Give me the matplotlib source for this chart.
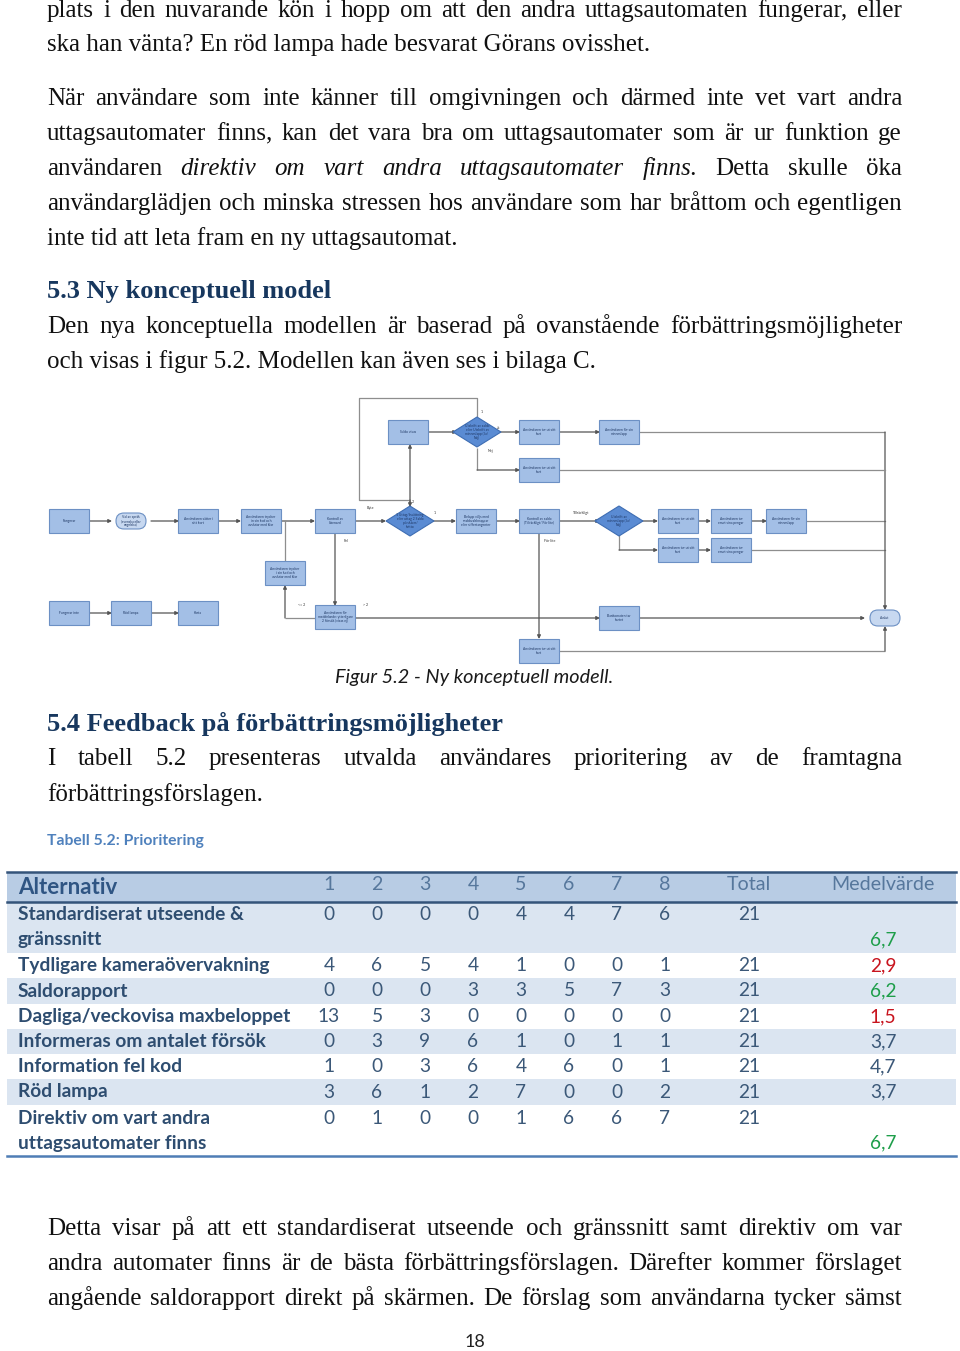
import matplotlib
matplotlib.use("Agg")
import matplotlib.pyplot as plt
from matplotlib.patches import Rectangle, FancyBboxPatch, Polygon

# ---- data ----
alternativ = [
    ["Standardiserat utseende &", "gränssnitt"],
    ["Tydligare kameraövervakning"],
    ["Saldorapport"],
    ["Dagliga/veckovisa maxbeloppet"],
    ["Informeras om antalet försök"],
    ["Information fel kod"],
    ["Röd lampa"],
    ["Direktiv om vart andra", "uttagsautomater finns"],
]
svar_1 = [0, 4, 0, 13, 0, 1, 3, 0]
svar_2 = [0, 6, 0, 5, 3, 0, 6, 1]
svar_3 = [0, 5, 0, 3, 9, 3, 1, 0]
svar_4 = [0, 4, 3, 0, 6, 6, 2, 0]
svar_5 = [4, 1, 3, 0, 1, 4, 7, 1]
svar_6 = [4, 0, 5, 0, 0, 6, 0, 6]
svar_7 = [7, 0, 7, 0, 1, 0, 0, 6]
svar_8 = [6, 1, 3, 0, 1, 1, 2, 7]
total = [21, 21, 21, 21, 21, 21, 21, 21]
medelvarde = [6.7, 2.9, 6.2, 1.5, 3.7, 4.7, 3.7, 6.7]
medel_farg = ["#1E9E4A", "#C8141E", "#1E9E4A", "#C8141E", None, None, None, "#1E9E4A"]
kolumner = ["1", "2", "3", "4", "5", "6", "7", "8", "Total", "Medelvärde"]

# body text: (y, line, justified)  '*' before a word = italic
stycken = [
    (10, "plats i den nuvarande kön i hopp om att den andra uttagsautomaten fungerar, eller", True),
    (44, "ska han vänta? En röd lampa hade besvarat Görans ovisshet.", False),
    (98, "När användare som inte känner till omgivningen och därmed inte vet vart andra", True),
    (133, "uttagsautomater finns, kan det vara bra om uttagsautomater som är ur funktion ge", True),
    (168, "användaren *direktiv *om *vart *andra *uttagsautomater *finns. Detta skulle öka", True),
    (203, "användarglädjen och minska stressen hos användare som har bråttom och egentligen", True),
    (238, "inte tid att leta fram en ny uttagsautomat.", False),
    (326, "Den nya konceptuella modellen är baserad på ovanstående förbättringsmöjligheter", True),
    (361, "och visas i figur 5.2. Modellen kan även ses i bilaga C.", False),
    (758, "I tabell 5.2 presenteras utvalda användares prioritering av de framtagna", True),
    (794, "förbättringsförslagen.", False),
    (1228, "Detta visar på att ett standardiserat utseende och gränssnitt samt direktiv om var", True),
    (1263, "andra automater finns är de bästa förbättringsförslagen. Därefter kommer förslaget", True),
    (1298, "angående saldorapport direkt på skärmen. De förslag som användarna tycker sämst", True),
]

# flowchart nodes: label, center x, center y, kind
noder = [
    ("Fungerar", 69, 521, "box"),
    ("Val av språk\n(svenska eller\nengelska)", 131, 521, "term"),
    ("Användaren sätter i\nsitt kort", 198, 521, "box"),
    ("Användaren trycker\nin sin kod och\navslutar med klar", 261, 521, "box"),
    ("Kontroll av\nlösenord", 335, 521, "box"),
    ("1 Uttag/Insättning\neller uttag 2 Saldo\npå skärm/\nkvitto", 410, 521, "dia"),
    ("Belopp väljs med\nsnabbvalsknappar\neller siffertangenter", 476, 521, "box"),
    ("Kontroll av saldo\n(Tillräckligt/ För lite)", 539, 521, "box"),
    ("Utskrift av\nminneslapp (Ja/\nNej)", 619, 521, "dia"),
    ("Användaren tar ut sitt\nkort", 678, 521, "box"),
    ("Användaren tar\nemot sina pengar", 731, 521, "box"),
    ("Användaren får sin\nminneslapp", 786, 521, "box"),
    ("Användaren tar ut sitt\nkort", 678, 550, "box"),
    ("Användaren tar\nemot sina pengar", 731, 550, "box"),
    ("Saldo visas", 408, 432, "box"),
    ("Utskrift av saldo\neller Utskrift av\nminneslapp (Ja/\nNej)", 477, 432, "dia"),
    ("Användaren tar ut sitt\nkort", 539, 432, "box"),
    ("Användaren får sin\nminneslapp", 619, 432, "box"),
    ("Användaren tar ut sitt\nkort", 539, 470, "box"),
    ("Användaren trycker\ni sin kod och\navslutar med klar", 285, 573, "box"),
    ("Användaren får\nmeddelande: ytterligare\n2 försök (visas ej)", 335, 617, "box"),
    ("Bankomaten tar\nkortet", 619, 618, "box"),
    ("Användaren tar ut sitt\nkort", 539, 651, "box"),
    ("Avslut", 885, 618, "term"),
    ("Fungerar inte", 69, 613, "box"),
    ("Röd lampa", 131, 613, "box"),
    ("Karta", 198, 613, "box"),
]
# flowchart connectors: points, arrow at end
kanter = [
    ([(89, 521), (112, 521)], True), ([(151, 521), (179, 521)], True),
    ([(218, 521), (241, 521)], True), ([(281, 521), (315, 521)], True),
    ([(355, 521), (386, 521)], True), ([(433, 521), (456, 521)], True),
    ([(496, 521), (520, 521)], True), ([(559, 521), (600, 521)], True),
    ([(638, 521), (658, 521)], True), ([(698, 521), (711, 521)], True),
    ([(751, 521), (767, 521)], True), ([(619, 534), (619, 550), (658, 550)], True),
    ([(698, 550), (711, 550)], True), ([(806, 521), (885, 521)], False),
    ([(751, 550), (885, 550)], False), ([(410, 507), (410, 444)], True),
    ([(477, 417), (477, 398), (359, 398), (359, 500), (410, 500), (410, 507)], True),
    ([(428, 432), (457, 432)], True), ([(497, 432), (520, 432)], True),
    ([(477, 448), (477, 470), (520, 470)], True), ([(559, 432), (600, 432)], True),
    ([(639, 432), (885, 432), (885, 610)], True), ([(559, 470), (885, 470)], False),
    ([(335, 533), (335, 606)], True), ([(315, 618), (285, 618), (285, 585)], True),
    ([(354, 618), (600, 618)], True), ([(539, 533), (539, 639)], True),
    ([(639, 618), (865, 618)], True), ([(559, 651), (885, 651), (885, 626)], True),
    ([(285, 562), (285, 521)], False),
    ([(89, 613), (112, 613)], True), ([(151, 613), (179, 613)], True),
]
etiketter = [
    ("Byte", 370, 508), ("2", 413, 502), ("1", 435, 513), ("1", 482, 412),
    ("Ja", 499, 428), ("Nej", 490, 451), ("Fel", 346, 541), ("<= 2", 302, 605),
    ("> 2", 366, 605), ("Tillräckligt", 581, 513), ("För lite", 550, 541),
]

fig = plt.figure(figsize=(9.6, 13.51), dpi=100)
ax = fig.add_axes([0, 0, 1, 1])
ax.set_xlim(0, 960)
ax.set_ylim(1351, 0)
ax.axis("off")
renderer = fig.canvas.get_renderer()

SERIF = "Liberation Serif"
SANS = "Lato"
BODY = 18
X0, X1 = 47, 902


def bredd(t):
    return t.get_window_extent(renderer).width


# ---- body text ----
for y, rad, just in stycken:
    yb = y + 7
    if not just:
        ax.text(X0, yb, rad, family=SERIF, fontsize=BODY, va="baseline", color="#111111")
        continue
    ord_ = rad.split()
    texter = []
    for w in ord_:
        st = "normal"
        if w.startswith("*"):
            w, st = w[1:], "italic"
        texter.append(ax.text(0, yb, w, family=SERIF, fontsize=BODY, style=st,
                              va="baseline", color="#111111"))
    bredder = [bredd(t) for t in texter]
    gap = (X1 - X0 - sum(bredder)) / (len(texter) - 1)
    x = X0
    for t, b in zip(texter, bredder):
        t.set_x(x)
        x += b + gap

# headings
ax.text(X0, 291 + 7, "5.3 Ny konceptuell model", family=SERIF, fontsize=19,
        weight="bold", color="#17375E", va="baseline")
ax.text(X0, 724 + 7, "5.4 Feedback på förbättringsmöjligheter", family=SERIF, fontsize=19,
        weight="bold", color="#17375E", va="baseline")

# ---- flowchart ----
LINJE = "#8E8E8E"
for pts, pil in kanter:
    xs = [p[0] for p in pts]
    ys = [p[1] for p in pts]
    if pil:
        ax.plot(xs[:-1], ys[:-1], color=LINJE, lw=0.9, solid_capstyle="butt", zorder=2)
        ax.annotate("", xy=pts[-1], xytext=pts[-2],
                    arrowprops=dict(arrowstyle="-|>", color="#555555", lw=0.9,
                                    mutation_scale=5, shrinkA=0, shrinkB=0), zorder=2)
    else:
        ax.plot(xs, ys, color=LINJE, lw=0.9, zorder=2)

for namn, cx, cy, typ in noder:
    if typ == "box":
        ax.add_patch(Rectangle((cx - 20, cy - 12), 40, 24, facecolor="#A3BFE6",
                               edgecolor="#6C90C4", lw=0.8, zorder=3))
    elif typ == "term":
        ax.add_patch(FancyBboxPatch((cx - 15, cy - 8), 30, 16,
                                    boxstyle="round,pad=0,rounding_size=8",
                                    facecolor="#C7D8F0", edgecolor="#6C90C4", lw=0.8, zorder=3))
    else:
        ax.add_patch(Polygon([(cx - 24, cy), (cx, cy - 15), (cx + 24, cy), (cx, cy + 15)],
                             closed=True, facecolor="#5A8BD3", edgecolor="#3E6DB3",
                             lw=0.8, zorder=3))
    ax.text(cx, cy, namn, ha="center", va="center", fontsize=2.4, family=SANS,
            color="#1F3864", linespacing=1.1, zorder=4)

for txt, x, y in etiketter:
    ax.text(x, y, txt, fontsize=2.6, family=SANS, color="#333333", ha="center", va="center")

ax.text(474.5, 677, "Figur 5.2 - Ny konceptuell modell.", family=SANS, style="italic",
        fontsize=14.3, ha="center", va="center", color="#1a1a1a")
ax.text(X0, 841, "Tabell 5.2: Prioritering", family=SANS, weight="bold", fontsize=11.3,
        color="#4F81BD", va="center")

# ---- table ----
TL, TR = 7, 956
rad_topp = [902, 953, 978, 1004, 1029, 1054, 1079, 1105]
rad_botten = rad_topp[1:] + [1155]
kol_x = [329, 377, 425, 473, 521, 569, 617, 665, 749, 883]
TEXT = "#2E4D70"
NUM = "#3B5878"

ax.add_patch(Rectangle((TL, 872), TR - TL, 30, facecolor="#B8CCE4", edgecolor="none", zorder=1))
for i, (a, b) in enumerate(zip(rad_topp, rad_botten)):
    if i % 2 == 0:
        ax.add_patch(Rectangle((TL, a), TR - TL, b - a, facecolor="#DBE5F1",
                               edgecolor="none", zorder=1))
ax.plot([TL, TR], [872, 872], color="#34547A", lw=1.8, zorder=2)
ax.plot([TL, TR], [902, 902], color="#34547A", lw=1.8, zorder=2)
ax.plot([TL, TR], [1156, 1156], color="#4F7DB5", lw=1.8, zorder=2)

ax.text(18, 887, "Alternativ", family=SANS, weight="bold", fontsize=16, color="#2F5583",
        va="center")
for x, k in zip(kol_x, kolumner):
    ax.text(x, 885, k, family=SANS, fontsize=14.1, color="#56779C", ha="center", va="center")

kolumn_data = [svar_1, svar_2, svar_3, svar_4, svar_5, svar_6, svar_7, svar_8, total]
for i, rader in enumerate(alternativ):
    top, bot = rad_topp[i], rad_botten[i]
    if len(rader) == 1:
        y1 = y2 = (top + bot) / 2
    else:
        y1, y2 = top + 13, top + 38
    for j, r in enumerate(rader):
        ax.text(18, y1 + j * 25, r, family=SANS, weight="bold", fontsize=13.8, color=TEXT,
                va="center")
    for x, col in zip(kol_x[:9], kolumn_data):
        ax.text(x, y1, str(col[i]), family=SANS, fontsize=13.8, color=NUM, ha="center",
                va="center")
    mv = f"{medelvarde[i]:.1f}".replace(".", ",")
    ax.text(kol_x[9], y2, mv, family=SANS, fontsize=13.8, ha="center", va="center",
            color=medel_farg[i] or NUM)

ax.text(475, 1342, "18", family=SANS, fontsize=13, ha="center", va="center", color="#222222")

fig.savefig("out.png", dpi=100)
